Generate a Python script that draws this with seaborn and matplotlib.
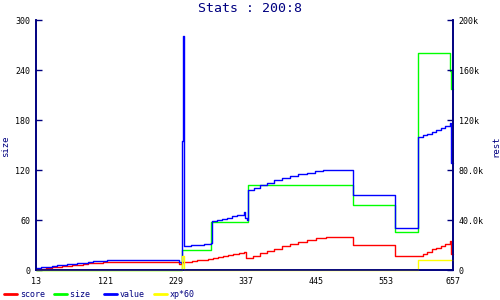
import matplotlib
matplotlib.use("Agg")
import matplotlib.pyplot as plt
from matplotlib.lines import Line2D
import seaborn as sns
import pandas as pd

# ---- data ----
size_x = [13, 237, 239, 284, 341, 503, 567, 603, 652, 654, 657]
size_y = [0, 0, 24, 57.2, 102, 78, 45.2, 261, 239, 217, 217]

value_x = [13, 21, 29, 37, 45, 53, 61, 69, 77, 85, 93, 101, 109, 117, 123,
           234, 237, 239, 240, 241.5, 252, 262, 272, 283,
           285, 292, 300, 308, 316, 324, 334, 336, 339,
           341, 350, 359, 370, 380, 393, 406, 418, 431, 444, 457,
           503, 567,
           603, 610, 617, 624, 631, 638, 645, 652, 654, 657]
value_y = [1600, 2100, 2700, 3200, 3700, 4200, 4700, 5200, 5600, 6000, 6500,
           6900, 7300, 7600, 7900,
           6700, 6000, 103000, 187000, 19300, 19800, 20300, 21000, 21900,
           39200, 40200, 41000, 42000, 43000, 44300, 46100, 41300, 40000,
           64000, 66000, 68000, 70000, 72000, 73700, 75200, 76600, 77900,
           79000, 79700,
           60000, 33600,
           106700, 107900, 109200, 110500, 111900, 113300, 115000, 117300,
           85300, 85300]

score_x = [13, 21, 29, 37, 45, 53, 61, 69, 77, 85, 93, 101, 109, 117, 123,
           234, 238, 246, 254, 262, 270, 278, 286, 294, 302, 310, 318, 326, 334,
           337, 348, 359, 370, 380, 393, 406, 418, 431, 446, 461,
           503, 567,
           603, 610, 617, 624, 631, 638, 645, 652, 654, 657]
score_y = [800, 1200, 1700, 2200, 2600, 3100, 3500, 4000, 4400, 4800, 5300,
           5700, 6000, 6300, 6400,
           4700, 6100, 6600, 7200, 7800, 8400, 9000, 9700, 10400, 11000, 11700,
           12500, 13300, 14700,
           9900, 11600, 13300, 15100, 16800, 18900, 20800, 22500, 24000, 25400,
           26400,
           19700, 11200,
           11200, 13000, 14800, 16500, 18000, 19600, 21200, 22900, 12800, 12800]

xp_x = [13, 237, 239, 241.5, 603, 657]
xp_y = [0, 0, 11300, 0, 7700, 7700]

x_ticks = [13, 121, 229, 337, 445, 553, 657]
left_ticks = [0, 60, 120, 180, 240, 300]
right_ticks = [0, 40000, 80000, 120000, 160000, 200000]
right_labels = ["0", "40.0k", "80.0k", "120k", "160k", "200k"]
title = "Stats : 200:8"

# ---- style ----
sns.set_style("white")
plt.rcParams["font.family"] = ["DejaVu Sans Mono", "DejaVu Sans"]
NAVY = "#000080"

fig = plt.figure(figsize=(5, 3), dpi=100)
ax = fig.add_axes([36 / 500, 30 / 300, 417 / 500, 250 / 300])
ax2 = ax.twinx()

lw = 1.0
common = dict(estimator=None, sort=False, drawstyle="steps-post", linewidth=lw)

sns.lineplot(data=pd.DataFrame({"x": size_x, "y": size_y}), x="x", y="y",
             ax=ax, color="#00ff00", label="size", legend=False, **common)
sns.lineplot(data=pd.DataFrame({"x": score_x, "y": score_y}), x="x", y="y",
             ax=ax2, color="#ff0000", label="score", legend=False, **common)
sns.lineplot(data=pd.DataFrame({"x": value_x, "y": value_y}), x="x", y="y",
             ax=ax2, color="#0000ff", label="value", legend=False, **common)
sns.lineplot(data=pd.DataFrame({"x": xp_x, "y": xp_y}), x="x", y="y",
             ax=ax2, color="#ffff00", label="xp*60", legend=False, **common)

for a in (ax, ax2):
    for ln in a.get_lines():
        ln.set_clip_on(False)

ax.set_xlim(13, 657)
ax.set_ylim(0, 300)
ax2.set_ylim(0, 200000)

ax.set_xticks(x_ticks)
ax.set_xticklabels([str(t) for t in x_ticks])
ax.set_yticks(left_ticks)
ax.set_yticklabels([str(t) for t in left_ticks])
ax2.set_yticks(right_ticks)
ax2.set_yticklabels(right_labels)

for a in (ax, ax2):
    a.grid(False)
    a.spines["top"].set_visible(False)
    for s in ("left", "right", "bottom"):
        a.spines[s].set_color(NAVY)
        a.spines[s].set_linewidth(1.2)
    a.tick_params(direction="in", length=4, width=1, color=NAVY,
                  labelsize=6, labelcolor="black", pad=4)
    a.set_xlabel("")
ax.tick_params(axis="x", pad=5)

ax.set_ylabel("size", fontsize=6.5, color=NAVY)
ax.yaxis.set_label_coords(-0.062, 0.494)
ax2.set_ylabel("rest", fontsize=6.5, color=NAVY, rotation=90)
ax2.yaxis.set_label_coords(1.091, 0.494)

fig.text(0.5, 1 - 9 / 300, title, ha="center", va="center",
         fontsize=9.5, color=NAVY)

handles = [ax2.get_lines()[0], ax.get_lines()[0], ax2.get_lines()[1], ax2.get_lines()[2]]
labels = ["score", "size ", "value", "xp*60"]
hs = [Line2D([], [], color=h.get_color(), linewidth=2) for h in handles]
leg = fig.legend(hs, labels, loc="center left", bbox_to_anchor=(4 / 500, 1 - 294.5 / 300),
                 ncol=4, frameon=False, fontsize=6, handlelength=1.56,
                 handletextpad=0.36, columnspacing=1.08, borderpad=0,
                 borderaxespad=0)
for t in leg.get_texts():
    t.set_color(NAVY)

fig.savefig("out.png", dpi=100)
